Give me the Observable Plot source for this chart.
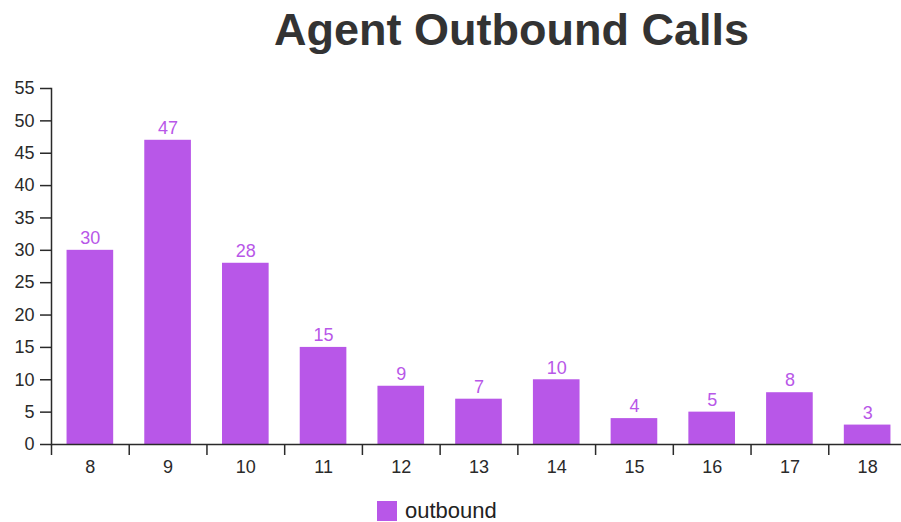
<!DOCTYPE html>
<html>
<head>
<meta charset="utf-8">
<script src="https://cdn.jsdelivr.net/npm/d3@7"></script>
<script src="https://cdn.jsdelivr.net/npm/@observablehq/plot@0.6"></script>
<style>
  body { margin: 0; background: #fff; font-family: "Liberation Sans", Arial, Helvetica, sans-serif; }
  #wrap { position: relative; width: 901px; height: 522px; overflow: hidden; }
  #title { position: absolute; left: 0; top: 4px; width: 1023px; text-align: center; font-size: 45px; font-weight: bold; color: #333; }
  #chart { position: absolute; left: 0; top: 60px; }
  #legend { position: absolute; left: 377px; top: 498px; font-size: 22px; color: #222; display: flex; align-items: center; }
  #legend .sw { width: 20px; height: 20px; background: #b857e8; margin-right: 8px; }
</style>
</head>
<body>
<div id="wrap">
  <div id="title">Agent Outbound Calls</div>
  <div id="chart"></div>
  <div id="legend"><span class="sw"></span><span>outbound</span></div>
</div>
<script>
const hours = ["8", "9", "10", "11", "12", "13", "14", "15", "16", "17", "18"];
const outbound = [30, 47, 28, 15, 9, 7, 10, 4, 5, 8, 3];
const yTicks = [0, 5, 10, 15, 20, 25, 30, 35, 40, 45, 50, 55];

const data = hours.map((h, i) => ({hour: h, value: outbound[i]}));

const W = 901, H = 430, mT = 28, mB = 46, mL = 51;
const x0 = 51, x1 = 906;
const step = (x1 - x0) / hours.length;
const color = "#b857e8";
const ink = "#2a2a2a";

const plot = Plot.plot({
  width: W,
  height: H,
  marginTop: mT,
  marginBottom: mB,
  marginLeft: mL,
  marginRight: 0,
  style: {fontFamily: "'Liberation Sans', Arial, Helvetica, sans-serif", fontSize: "18px", color: ink, background: "transparent"},
  x: {domain: hours, range: [x0, x1], paddingInner: 0.4, paddingOuter: 0.2, align: 0.5, round: false},
  y: {domain: [0, 55]},
  marks: [
    Plot.barY(data, {x: "hour", y: "value", fill: color}),
    Plot.text(data, {x: "hour", y: "value", text: d => String(d.value), dy: -12, fill: color, fontSize: 18}),
    Plot.axisY({ticks: yTicks, tickSize: 11, tickPadding: 6, label: null, stroke: ink, strokeWidth: 1.5, fill: ink, fontSize: 18}),
    Plot.axisX({tickSize: 0, tickPadding: 16, label: null, fill: ink, fontSize: 18}),
    Plot.frame({anchor: "left", stroke: ink, strokeWidth: 1.5}),
    Plot.ruleY([0], {stroke: ink, strokeWidth: 1.5}),
    Plot.ruleX(hours, {x: d => d, dx: -step / 2, insetTop: H - mT - mB, insetBottom: -11, stroke: ink, strokeWidth: 1.5})
  ]
});
document.getElementById("chart").appendChild(plot);
</script>
</body>
</html>
